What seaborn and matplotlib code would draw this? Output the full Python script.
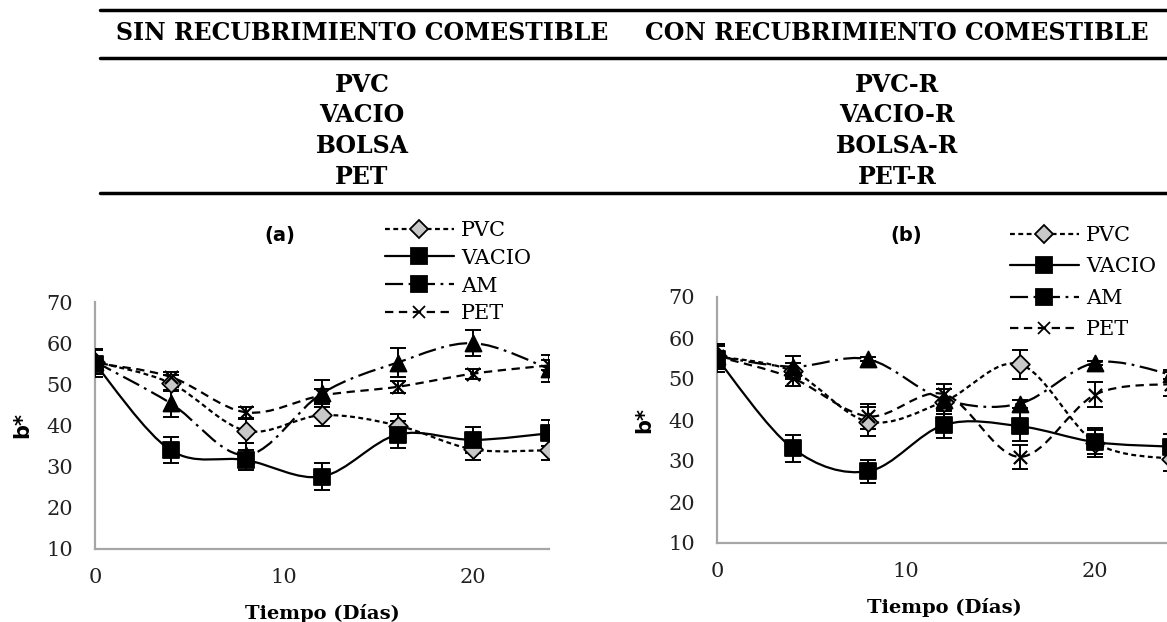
import matplotlib
matplotlib.use("Agg")
import matplotlib.pyplot as plt
from matplotlib.path import Path
from matplotlib.patches import PathPatch
from matplotlib.lines import Line2D
import seaborn as sns
import numpy as np

# Data: b* vs storage time (days)
dias = [0, 4, 8, 12, 16, 20, 24]
series = ["PVC", "VACIO", "AM", "PET"]

# (a) sin recubrimiento
pvc_a = [55.5, 50.3, 38.7, 42.5, 40.0, 34.2, 34.0]
vacio_a = [55.0, 34.0, 31.6, 27.6, 37.8, 36.5, 38.1]
am_a = [55.5, 45.4, 32.8, 47.8, 55.3, 60.0, 53.8]
pet_a = [55.2, 51.8, 43.2, 47.3, 49.4, 52.6, 54.6]
pvc_a_err = [3.0, 2.0, 3.0, 2.7, 2.8, 2.5, 2.5]
vacio_a_err = [3.3, 3.2, 2.5, 3.3, 3.2, 3.2, 3.2]
am_a_err = [3.0, 3.3, 3.0, 3.3, 3.5, 3.2, 3.3]
pet_a_err = [1.5, 1.2, 1.4, 1.5, 1.5, 1.2, 1.2]

# (b) con recubrimiento
pvc_b = [55.5, 51.9, 39.6, 44.5, 53.6, 34.5, 30.5]
vacio_b = [55.0, 33.1, 27.5, 38.8, 38.5, 34.6, 33.5]
am_b = [55.5, 53.0, 54.8, 45.0, 44.0, 54.0, 51.1]
pet_b = [55.5, 50.2, 40.9, 46.3, 31.0, 46.2, 48.8]
pvc_b_err = [3.0, 2.0, 3.5, 3.0, 3.5, 3.5, 3.0]
vacio_b_err = [3.3, 3.3, 2.8, 3.3, 3.5, 3.0, 3.0]
am_b_err = [3.0, 2.5, 0.5, 2.5, 1.0, 0.5, 1.0]
pet_b_err = [2.5, 2.0, 3.0, 2.5, 3.0, 3.0, 3.0]

yticks = [10, 20, 30, 40, 50, 60, 70]
xticks = [0, 10, 20]

tabla_izq = ["SIN RECUBRIMIENTO COMESTIBLE", "PVC", "VACIO", "BOLSA", "PET"]
tabla_der = ["CON RECUBRIMIENTO COMESTIBLE", "PVC-R", "VACIO-R", "BOLSA-R", "PET-R"]

# Styles
estilo = {
    "PVC": dict(ls=(0, (3.5, 2.5)), marker="D", fc="#c8c8c8", ms=9.5),
    "VACIO": dict(ls="-", marker="s", fc="black", ms=11.5),
    "AM": dict(ls=(0, (13, 4, 2, 4)), marker="^", fc="black", ms=11.5),
    "PET": dict(ls=(0, (6, 4)), marker="x", fc="black", ms=9.5),
}

sns.set_theme(style="white")
plt.rcParams["font.family"] = ["DejaVu Serif"]
plt.rcParams["lines.scale_dashes"] = False
plt.rcParams["text.color"] = "black"
plt.rcParams["axes.labelcolor"] = "black"

W, H = 1167, 622
fig = plt.figure(figsize=(W / 100, H / 100), dpi=100)


def fx(px):
    return px / W


def fy(py):
    return 1 - py / H


def smooth(x, y):
    # Excel-like smoothed line through the points (cubic Bezier)
    n = len(x)
    verts = [(x[0], y[0])]
    codes = [Path.MOVETO]
    for i in range(n - 1):
        xp, yp = (x[i - 1], y[i - 1]) if i > 0 else (x[i], y[i])
        xn, yn = (x[i + 2], y[i + 2]) if i + 2 < n else (x[i + 1], y[i + 1])
        c1 = (x[i] + (x[i + 1] - xp) / 6, y[i] + (y[i + 1] - yp) / 6)
        c2 = (x[i + 1] - (xn - x[i]) / 6, y[i + 1] - (yn - y[i]) / 6)
        verts += [c1, c2, (x[i + 1], y[i + 1])]
        codes += [Path.CURVE4] * 3
    return Path(verts, codes)


def panel(ax, datos, errores):
    for s in series:
        y = datos[s]
        st = estilo[s]
        ax.add_patch(PathPatch(smooth(dias, y), fill=False, edgecolor="black",
                               lw=1.6, linestyle=st["ls"], zorder=2))
        ax.errorbar(dias, y, yerr=errores[s], fmt="none", ecolor="black",
                    elinewidth=1.4, capsize=6, capthick=1.4, zorder=3)
        if st["marker"] == "x":
            sns.scatterplot(x=dias, y=y, ax=ax, marker="x", color="black",
                            s=st["ms"] ** 2, linewidth=1.6, zorder=4)
        else:
            sns.scatterplot(x=dias, y=y, ax=ax, marker=st["marker"], color=st["fc"],
                            edgecolor="black", linewidth=1.3, s=st["ms"] ** 2, zorder=4)
    ax.set_xlim(0, 24)
    ax.set_ylim(10, 70)
    ax.set_xticks(xticks)
    ax.set_yticks(yticks)
    ax.tick_params(axis="both", length=0, labelsize=15, colors="#222222")
    ax.tick_params(axis="y", pad=16)
    ax.tick_params(axis="x", pad=14)
    for sp in ["top", "right"]:
        ax.spines[sp].set_visible(False)
    for sp in ["left", "bottom"]:
        ax.spines[sp].set_color("#a6a6a6")
        ax.spines[sp].set_linewidth(1.6)
    ax.set_xlabel("Tiempo (Días)", fontsize=14, fontweight="bold", labelpad=12)
    ax.set_ylabel("b*", fontsize=15, fontweight="bold", family="DejaVu Sans", labelpad=10)
    ax.grid(False)


handles = []
for s in series:
    st = estilo[s]
    mk = "s" if s == "AM" else st["marker"]
    handles.append(Line2D([0], [0], color="black", lw=1.6, linestyle=st["ls"],
                          marker=mk, markersize=11 if mk == "s" else 9,
                          markerfacecolor=st["fc"] if mk != "x" else "black",
                          markeredgecolor="black", markeredgewidth=1.3))

ax_a = fig.add_axes([fx(95), fy(549), fx(549 - 95), fy(302) - fy(549)])
panel(ax_a, {"PVC": pvc_a, "VACIO": vacio_a, "AM": am_a, "PET": pet_a},
      {"PVC": pvc_a_err, "VACIO": vacio_a_err, "AM": am_a_err, "PET": pet_a_err})
ax_a.legend(handles, series, loc="upper left", bbox_to_anchor=(fx(385), fy(221)),
            bbox_transform=fig.transFigure, frameon=False, borderpad=0, borderaxespad=0,
            fontsize=15, handlelength=3.3, handletextpad=0.35, labelspacing=0.42)
fig.text(fx(280), fy(236), "(a)", ha="center", va="center", fontsize=14,
         fontweight="bold", family="DejaVu Sans")

ax_b = fig.add_axes([fx(717), fy(543), fx(549 - 95), fy(297) - fy(543)])
panel(ax_b, {"PVC": pvc_b, "VACIO": vacio_b, "AM": am_b, "PET": pet_b},
      {"PVC": pvc_b_err, "VACIO": vacio_b_err, "AM": am_b_err, "PET": pet_b_err})
ax_b.legend(handles, series, loc="upper left", bbox_to_anchor=(fx(1010), fy(226)),
            bbox_transform=fig.transFigure, frameon=False, borderpad=0, borderaxespad=0,
            fontsize=15, handlelength=3.3, handletextpad=0.35, labelspacing=0.6)
fig.text(fx(906), fy(236), "(b)", ha="center", va="center", fontsize=14,
         fontweight="bold", family="DejaVu Sans")

# Table on top
for py in [10, 58, 193]:
    fig.add_artist(Line2D([fx(100), 1], [fy(py), fy(py)], color="black", lw=2.5,
                          transform=fig.transFigure))
filas_y = [33, 85, 115, 146, 177]
for txt_i, txt_d, py in zip(tabla_izq, tabla_der, filas_y):
    fig.text(fx(362), fy(py), txt_i, ha="center", va="center", fontsize=17,
             fontweight="bold", color="black")
    fig.text(fx(897), fy(py), txt_d, ha="center", va="center", fontsize=17,
             fontweight="bold", color="black")

fig.savefig("out.png", dpi=100)
